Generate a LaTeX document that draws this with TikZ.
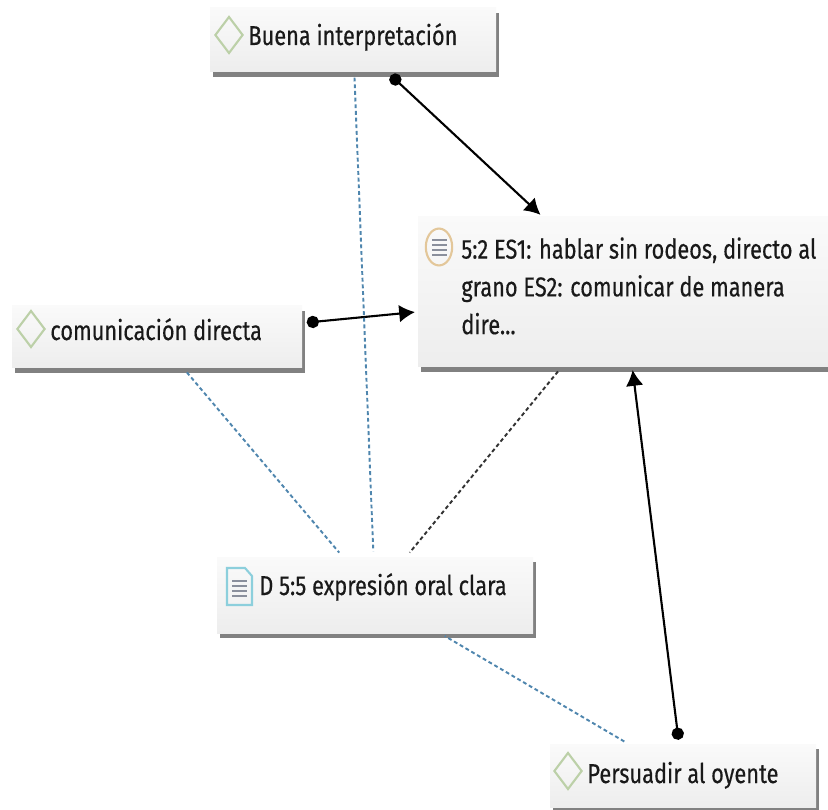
\documentclass[tikz,border=0pt]{standalone}
\usepackage{fontspec}
\newfontfamily\boxfont[FakeStretch=0.8,FakeBold=0.35]{Fira Sans}
\usetikzlibrary{shadows}
\usetikzlibrary{arrows.meta,shapes.geometric}
\definecolor{codegreen}{HTML}{BCD0A8}
\definecolor{quoteorange}{HTML}{E3C79A}
\definecolor{docblue}{HTML}{8CCFDC}
\definecolor{linkblue}{HTML}{4F86AE}
\definecolor{iconline}{HTML}{8A8F9C}
\tikzstyle{box}=[rectangle,top color=black!2,bottom color=black!7,inner sep=0pt,drop shadow={shadow xshift=1.6pt,shadow yshift=-2.8pt,opacity=.7,fill=black!70}]
\tikzstyle{boxtext}=[font=\boxfont\fontsize{15.5}{21.5}\selectfont,text=black!90,inner sep=0pt,align=left]
\tikzstyle{codeicon}=[diamond,draw=codegreen,line width=1.2pt,inner sep=0pt,minimum width=16pt,minimum height=21pt]
\tikzstyle{edge}=[draw,line width=1.2pt,black,{Circle[length=7pt]}-{Latex[length=9pt,width=10pt]},shorten <=2.5pt,shorten >=1.5pt]
\tikzstyle{memo}=[draw,dash pattern=on 2.2pt off 1.6pt,line width=1.1pt,linkblue,shorten <=3pt,shorten >=3pt]
\begin{document}
\begin{tikzpicture}[x=0.02cm,y=-0.02cm]

    \useasboundingbox (0,0) rectangle (828,810);

     \foreach \x/\y/\w/\h/\name in {353/40/286/64/buena, 157/337/290/62/directa, 623/292/410/150/cita, 375/595/316/76/doc, 683/776/266/63/persuadir}
        \node[box, minimum width=\w*0.02cm, minimum height=\h*0.02cm] (\name) at (\x,\y) {};

     \foreach \x/\y/\name/\label in {248/45/buenatext/Buena interpretación, 50/340/directatext/comunicación directa, 259/595/doctext/D 5:5 expresión oral clara, 587/783/persuadirtext/Persuadir al oyente}
        \node[boxtext, anchor=base west] (\name) at (\x,\y) {\label};

    \node[boxtext, anchor=north west] (citatext) at (461,237) {5:2 ES1: hablar sin rodeos, directo al\\grano ES2: comunicar de manera\\dire...};

     \foreach \x/\y/\name in {229/35/buenaicon, 31/329/directaicon, 568/771/persuadiricon}
        \node[codeicon] (\name) at (\x,\y) {};

    \node[ellipse, draw=quoteorange, line width=1.2pt, minimum width=15pt, minimum height=21pt, inner sep=0pt] (citaicon) at (439,247) {};
    \foreach \y in {240,245,250,255}
        \draw[iconline, line width=1.5pt] (432,\y) -- (447,\y);

    \draw[docblue, line width=1.2pt] (227,568) -- (245,568) -- (252,576) -- (252,605) -- (227,605) -- cycle;
    \foreach \y in {581,586,591,596}
        \draw[iconline, line width=1.5pt] (232,\y) -- (247,\y);

    \foreach \source/ \dest in {buena/cita, directa/cita, persuadir/cita}
        \path[edge] (\source) -- (\dest);

    \foreach \source/ \dest in {buena/doc, directa/doc, persuadir/doc}
        \path[memo] (\source) -- (\dest);

    \path[memo, black!80] (cita) -- (doc);

\end{tikzpicture}
\end{document}
